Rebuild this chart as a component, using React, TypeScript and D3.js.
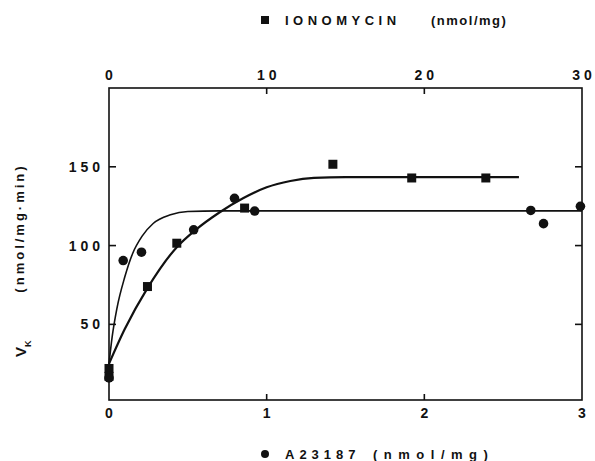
import React from 'react';
import * as d3 from 'd3';

// ionomycin (top axis, nmol/mg) – squares
const ionoX = [0, 0, 2.44, 4.3, 8.6, 14.2, 19.2, 23.9];
const ionoY = [22, 17, 74, 101.5, 123.8, 151.6, 142.9, 142.9];
// fitted line
const ionoLineX = [0, 1, 2.44, 4.3, 5.5, 7, 8.5, 10, 11.5, 13, 15, 20, 26];
const ionoLineY = [25, 47, 73, 99, 110, 121, 130, 137, 141, 143, 143.5, 143.5, 143.5];

// A23187 (bottom axis, nmol/mg) – circles
const a23X = [0, 0.09, 0.206, 0.537, 0.796, 0.924, 2.675, 2.756, 2.99];
const a23Y = [16, 90.5, 95.8, 110, 130, 121.9, 122.3, 113.9, 124.9];
const a23LineX = [0, 0.02, 0.05, 0.1, 0.15, 0.21, 0.28, 0.39, 0.5, 0.7, 1.5, 3];
const a23LineY = [25, 42, 60, 80, 95, 106, 114, 119.5, 121.6, 122, 122, 122];

const topTicks = [0, 10, 20, 30];
const bottomTicks = [0, 1, 2, 3];
const yTicks = [50, 100, 150];

const W = 595;
const H = 461;
const left = 109;
const right = 582;
const top = 88;
const bottom = 400;

const font = "'Liberation Sans', Arial, sans-serif";

const App = () => {
  const xTop = d3.scaleLinear().domain([0, 30]).range([left, right]);
  const xBot = d3.scaleLinear().domain([0, 3]).range([left, right]);
  const y = d3.scaleLinear().domain([2, 200]).range([bottom, top]);

  const ionoLine = d3
    .line<number>()
    .x((d, i) => xTop(ionoLineX[i]))
    .y(d => y(d))
    .curve(d3.curveMonotoneX);
  const a23Line = d3
    .line<number>()
    .x((d, i) => xBot(a23LineX[i]))
    .y(d => y(d))
    .curve(d3.curveMonotoneX);

  const txt = {
    fontFamily: font,
    fontWeight: 'bold' as const,
    fontSize: 13,
    letterSpacing: 4,
    fill: '#111',
  };
  const tick = { ...txt, fontSize: 14, letterSpacing: 4 };

  return (
    <svg width={W} height={H} style={{ position: 'absolute', left: 0, top: 0, background: '#fff' }}>
      <rect width={W} height={H} fill="#fff" />
      {/* frame */}
      <g stroke="#111" strokeWidth={1.6} fill="none">
        <rect x={left} y={top} width={right - left} height={bottom - top} />
        {topTicks.slice(1, 3).map(t => (
          <line key={'tt' + t} x1={xTop(t)} x2={xTop(t)} y1={top} y2={top + 6} />
        ))}
        {bottomTicks.slice(1, 3).map(t => (
          <line key={'bt' + t} x1={xBot(t)} x2={xBot(t)} y1={bottom} y2={bottom - 6} />
        ))}
        {yTicks.map(t => (
          <g key={'yt' + t}>
            <line x1={left} x2={left + 7} y1={y(t)} y2={y(t)} />
            <line x1={right} x2={right - 7} y1={y(t)} y2={y(t)} />
          </g>
        ))}
      </g>

      {/* tick labels (letter-spacing adds trailing space, hence dx) */}
      {topTicks.map(t => (
        <text key={'tl' + t} x={xTop(t)} y={80} textAnchor="middle" dx={t === 0 ? 2 : 2} style={tick}>
          {t}
        </text>
      ))}
      {bottomTicks.map(t => (
        <text key={'bl' + t} x={xBot(t)} y={418} textAnchor="middle" dx={2} style={tick}>
          {t}
        </text>
      ))}
      {yTicks.map(t => (
        <text key={'yl' + t} x={104} y={y(t) + 5} textAnchor="end" style={tick}>
          {t}
        </text>
      ))}

      {/* curves */}
      <path d={ionoLine(ionoLineY) || ''} fill="none" stroke="#111" strokeWidth={2.2} />
      <path d={a23Line(a23LineY) || ''} fill="none" stroke="#111" strokeWidth={1.6} />

      {/* points */}
      {ionoY.map((v, i) => (
        <rect key={'s' + i} x={xTop(ionoX[i]) - 4.5} y={y(v) - 4.5} width={9} height={9} fill="#111" />
      ))}
      {a23Y.map((v, i) => (
        <circle key={'c' + i} cx={xBot(a23X[i])} cy={y(v)} r={4.8} fill="#111" />
      ))}

      {/* axis titles */}
      <rect x={261} y={16} width={8} height={8} fill="#111" />
      <text x={285} y={25} style={{ ...txt, letterSpacing: 4.5 }}>
        IONOMYCIN
      </text>
      <text x={431} y={25} style={{ ...txt, letterSpacing: 1.5 }}>
        (nmol/mg)
      </text>

      <circle cx={265} cy={454} r={4} fill="#111" />
      <text x={285} y={459} style={{ ...txt, letterSpacing: 5 }}>
        A23187
      </text>
      <text x={373} y={459} style={{ ...txt, letterSpacing: 6.5 }}>
        (nmol/mg)
      </text>

      <text transform="translate(24,228) rotate(-90)" textAnchor="middle" style={{ ...txt, letterSpacing: 3 }}>
        (nmol/mg·min)
      </text>
      <text transform="translate(26,357) rotate(-90)" style={{ ...txt, fontSize: 15, letterSpacing: 0 }}>
        V
        <tspan dy={5} style={{ fontSize: 9 }}>
          K
        </tspan>
      </text>
    </svg>
  );
};

export default App;
